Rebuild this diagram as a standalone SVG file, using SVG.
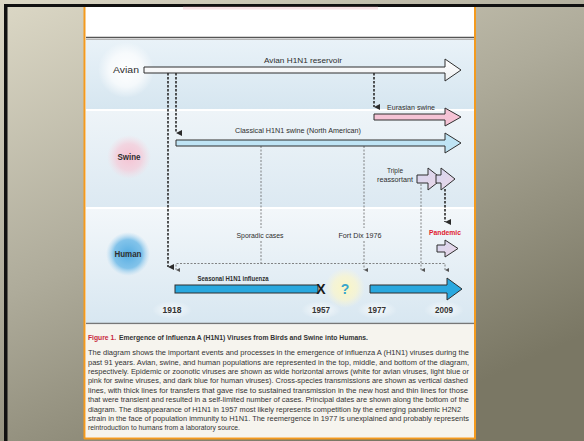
<svg xmlns="http://www.w3.org/2000/svg" width="584" height="441" viewBox="0 0 584 441">
<defs>
<linearGradient id="bg" x1="0" y1="0" x2="0.6" y2="1">
<stop offset="0" stop-color="#dcd8c6"/>
<stop offset="0.5" stop-color="#aeab9a"/>
<stop offset="1" stop-color="#7a7764"/>
</linearGradient>
<linearGradient id="band1" x1="0" y1="0" x2="0" y2="1">
<stop offset="0" stop-color="#e9f2f8"/>
<stop offset="1" stop-color="#d6e6f0"/>
</linearGradient>
<linearGradient id="band2" x1="0" y1="0" x2="0" y2="1">
<stop offset="0" stop-color="#eef4f8"/>
<stop offset="1" stop-color="#dce9f2"/>
</linearGradient>
<linearGradient id="band3" x1="0" y1="0" x2="0" y2="1">
<stop offset="0" stop-color="#f3f7fa"/>
<stop offset="1" stop-color="#d8e7f1"/>
</linearGradient>
<linearGradient id="lav" x1="0" y1="0" x2="1" y2="1">
<stop offset="0" stop-color="#d4d6f0"/>
<stop offset="1" stop-color="#ecd6e6"/>
</linearGradient>
<linearGradient id="white" x1="0" y1="0" x2="0" y2="1">
<stop offset="0" stop-color="#ffffff"/>
<stop offset="1" stop-color="#eef0f2"/>
</linearGradient>
<radialGradient id="gWhite"><stop offset="0" stop-color="#ffffff" stop-opacity="1"/><stop offset="0.6" stop-color="#ffffff" stop-opacity="0.7"/><stop offset="1" stop-color="#ffffff" stop-opacity="0"/></radialGradient>
<radialGradient id="gYr"><stop offset="0" stop-color="#ffffff" stop-opacity="0.8"/><stop offset="1" stop-color="#ffffff" stop-opacity="0"/></radialGradient>
<radialGradient id="gPink"><stop offset="0" stop-color="#f6c3d3" stop-opacity="1"/><stop offset="0.6" stop-color="#f6c9d7" stop-opacity="0.7"/><stop offset="1" stop-color="#f8d6e0" stop-opacity="0"/></radialGradient>
<radialGradient id="gBlue"><stop offset="0" stop-color="#55ade2" stop-opacity="1"/><stop offset="0.65" stop-color="#70bbe8" stop-opacity="0.85"/><stop offset="1" stop-color="#a8d4f0" stop-opacity="0"/></radialGradient>
<radialGradient id="gYellow"><stop offset="0" stop-color="#fbf6c4" stop-opacity="1"/><stop offset="0.6" stop-color="#fbf6cc" stop-opacity="0.7"/><stop offset="1" stop-color="#fbf6d8" stop-opacity="0"/></radialGradient>
<marker id="ah" viewBox="0 0 6 6" refX="3" refY="6" markerWidth="6" markerHeight="6" markerUnits="userSpaceOnUse" orient="auto-start-reverse"><path d="M0,0 L6,0 L3,6 Z" fill="#2b2b2b"/></marker>
<marker id="ahs" viewBox="0 0 4 4" refX="2" refY="4" markerWidth="4" markerHeight="4" markerUnits="userSpaceOnUse" orient="auto-start-reverse"><path d="M0,0 L4,0 L2,4 Z" fill="#555"/></marker>
</defs>
<style>
.lbl{font-family:"Liberation Sans",Arial,sans-serif;font-size:8px;fill:#2e2e2e;}
.big{font-family:"Liberation Sans",Arial,sans-serif;font-size:9px;fill:#2e2e2e;}
.yr{font-family:"Liberation Sans",Arial,sans-serif;font-size:9px;fill:#333;font-weight:bold;}
.cap{font-family:"Liberation Sans",Arial,sans-serif;font-size:7.8px;fill:#333;}
.arrow{stroke:#2f2f2f;stroke-width:1;stroke-linejoin:miter;}
.thick{fill:none;stroke:#2b2b2b;stroke-width:1.6;stroke-dasharray:2.5 1.5;}
.thin{fill:none;stroke:#666;stroke-width:0.8;stroke-dasharray:2 1.5;}
</style>
<!-- background -->
<rect x="0" y="0" width="584" height="441" fill="url(#bg)"/>
<rect x="4" y="4" width="580" height="3" fill="#111"/>
<rect x="4" y="4" width="3.5" height="437" fill="#111"/>
<!-- panel -->
<rect x="85" y="7" width="390" height="431" fill="#ffffff"/>
<rect x="183" y="6.5" width="195" height="3" fill="#e9a8b4" opacity="0.35"/>
<line x1="86" y1="37.5" x2="474" y2="37.5" stroke="#555" stroke-width="1.5"/>
<line x1="86" y1="39.5" x2="474" y2="39.5" stroke="#b5b5b5" stroke-width="1"/>
<rect x="86" y="40" width="388" height="69" fill="url(#band1)"/>
<rect x="86" y="111" width="388" height="96" fill="url(#band2)"/>
<rect x="86" y="209" width="388" height="114" fill="url(#band3)"/>
<line x1="86" y1="323.5" x2="474" y2="323.5" stroke="#777" stroke-width="1.5"/>
<rect x="86" y="324.5" width="388" height="113" fill="#f6f4ee"/>
<line x1="84.5" y1="7" x2="84.5" y2="439" stroke="#f39a1e" stroke-width="2"/>
<line x1="475" y1="7" x2="475" y2="439" stroke="#f39a1e" stroke-width="2"/>
<line x1="84" y1="438.5" x2="476" y2="438.5" stroke="#f39a1e" stroke-width="2"/>

<!-- host labels -->
<g id="avian">
<circle cx="126" cy="70" r="28" fill="url(#gWhite)"/>
<text class="big" x="126" y="72.8" text-anchor="middle" textLength="26" lengthAdjust="spacingAndGlyphs">Avian</text>
</g>
<g id="swine">
<circle cx="129" cy="157" r="22" fill="url(#gPink)"/>
<text class="big" x="129" y="160" text-anchor="middle" textLength="23" lengthAdjust="spacingAndGlyphs" font-weight="bold">Swine</text>
</g>
<g id="human">
<circle cx="128" cy="254" r="22" fill="url(#gBlue)"/>
<text class="big" x="128" y="257.2" text-anchor="middle" textLength="27" lengthAdjust="spacingAndGlyphs" font-weight="bold">Human</text>
</g>

<!-- connectors -->
<g id="connectors">
<line class="thick" x1="168" y1="73" x2="168" y2="267" marker-end="url(#ah)"/>
<line class="thick" x1="176" y1="73" x2="176" y2="133" marker-end="url(#ah)"/>
<line class="thick" x1="374" y1="73" x2="374" y2="107" marker-end="url(#ah)"/>
<line class="thick" x1="445" y1="189" x2="445" y2="222" marker-end="url(#ah)"/>
<line class="thin" x1="261" y1="146" x2="261" y2="228"/>
<line class="thin" x1="261" y1="241" x2="261" y2="263.5"/>
<line class="thin" x1="364" y1="146" x2="364" y2="228"/>
<line class="thin" x1="364" y1="241" x2="364" y2="270" marker-end="url(#ahs)"/>
<line class="thin" x1="421" y1="184" x2="421" y2="270" marker-end="url(#ahs)"/>
<polyline class="thin" points="176,270 176,263.5 445,263.5 445,270" marker-start="url(#ahs)" marker-end="url(#ahs)"/>
</g>

<!-- arrows -->
<g id="avian-reservoir">
<path class="arrow" fill="url(#white)" d="M144,67 H445 V59 L461,70 L445,81 V73 H144 Z"/>
<text class="lbl" x="303" y="62.8" text-anchor="middle" textLength="78" lengthAdjust="spacingAndGlyphs">Avian H1N1 reservoir</text>
</g>
<g id="eurasian-swine">
<path class="arrow" fill="#f5c3d5" d="M374,114 H445 V108 L461,117 L445,126 V120 H374 Z"/>
<text class="lbl" x="411" y="109.8" text-anchor="middle" textLength="48" lengthAdjust="spacingAndGlyphs">Eurasian swine</text>
</g>
<g id="classical-swine">
<path class="arrow" fill="#bfe4f5" d="M176,140 H445 V133 L461,143 L445,153 V146 H176 Z"/>
<text class="lbl" x="298" y="132.8" text-anchor="middle" textLength="126" lengthAdjust="spacingAndGlyphs">Classical H1N1 swine (North American)</text>
</g>
<g id="triple-reassortant">
<path class="arrow" fill="url(#lav)" d="M417,175 H428 V168 L442,179 L428,190 V183 H417 Z"/>
<path class="arrow" fill="url(#lav)" d="M436,175 H441 V168 L455,179 L441,190 V183 H436 Z"/>
<text class="lbl" x="395" y="172.8" text-anchor="middle" textLength="16" lengthAdjust="spacingAndGlyphs">Triple</text>
<text class="lbl" x="395" y="181.8" text-anchor="middle" textLength="36" lengthAdjust="spacingAndGlyphs">reassortant</text>
</g>
<g id="pandemic">
<text class="lbl" x="445" y="234.8" text-anchor="middle" textLength="32" lengthAdjust="spacingAndGlyphs" style="fill:#e0202e;font-weight:bold">Pandemic</text>
<path class="arrow" fill="url(#lav)" d="M437,245 H445 V240 L458,248.5 L445,257 V252 H437 Z"/>
</g>
<g id="labels-transfer">
<text class="lbl" x="260" y="237.8" text-anchor="middle" textLength="47" lengthAdjust="spacingAndGlyphs">Sporadic cases</text>
<text class="lbl" x="360" y="237.8" text-anchor="middle" textLength="43" lengthAdjust="spacingAndGlyphs">Fort Dix 1976</text>
</g>
<g id="seasonal">
<text class="lbl" x="233" y="280.8" text-anchor="middle" textLength="71" lengthAdjust="spacingAndGlyphs" style="font-weight:bold">Seasonal H1N1 influenza</text>
<rect class="arrow" x="175" y="285" width="143" height="8" fill="#29a8df"/>
<text x="321" y="293.5" text-anchor="middle" font-family="Liberation Sans, Arial, sans-serif" font-size="14" font-weight="bold" fill="#1a1a1a">X</text>
</g>
<g id="unknown">
<circle cx="345" cy="288" r="20" fill="url(#gYellow)"/>
<text x="345" y="294" text-anchor="middle" font-family="Liberation Sans, Arial, sans-serif" font-size="14" font-weight="bold" fill="#39a6cc">?</text>
</g>
<g id="human-1977">
<path class="arrow" fill="#29a8df" d="M370,285 H447 V278 L462,289 L447,300 V293 H370 Z"/>
</g>
<g id="years">
<ellipse cx="172" cy="310" rx="20" ry="9" fill="url(#gYr)"/>
<ellipse cx="321" cy="310" rx="20" ry="9" fill="url(#gYr)"/>
<ellipse cx="377" cy="310" rx="20" ry="9" fill="url(#gYr)"/>
<ellipse cx="444" cy="310" rx="20" ry="9" fill="url(#gYr)"/>
<text class="yr" x="172" y="313" text-anchor="middle" textLength="19" lengthAdjust="spacingAndGlyphs">1918</text>
<text class="yr" x="321" y="313" text-anchor="middle" textLength="18" lengthAdjust="spacingAndGlyphs">1957</text>
<text class="yr" x="377" y="313" text-anchor="middle" textLength="18" lengthAdjust="spacingAndGlyphs">1977</text>
<text class="yr" x="444" y="313" text-anchor="middle" textLength="18" lengthAdjust="spacingAndGlyphs">2009</text>
</g>

<!-- caption -->
<g id="caption">
<text class="cap" x="88" y="339.8" textLength="28" lengthAdjust="spacingAndGlyphs" font-weight="bold" style="fill:#c8283c">Figure 1.</text>
<text class="cap" x="119" y="339.8" textLength="249" lengthAdjust="spacingAndGlyphs" font-weight="bold">Emergence of Influenza A (H1N1) Viruses from Birds and Swine into Humans.</text>
<text class="cap" x="88" y="355.3" textLength="381" lengthAdjust="spacingAndGlyphs">The diagram shows the important events and processes in the emergence of influenza A (H1N1) viruses during the</text>
<text class="cap" x="88" y="364.7" textLength="381" lengthAdjust="spacingAndGlyphs">past 91 years. Avian, swine, and human populations are represented in the top, middle, and bottom of the diagram,</text>
<text class="cap" x="88" y="374.1" textLength="381" lengthAdjust="spacingAndGlyphs">respectively. Epidemic or zoonotic viruses are shown as wide horizontal arrows (white for avian viruses, light blue or</text>
<text class="cap" x="88" y="383.4" textLength="380" lengthAdjust="spacingAndGlyphs">pink for swine viruses, and dark blue for human viruses). Cross-species transmissions are shown as vertical dashed</text>
<text class="cap" x="88" y="392.8" textLength="380" lengthAdjust="spacingAndGlyphs">lines, with thick lines for transfers that gave rise to sustained transmission in the new host and thin lines for those</text>
<text class="cap" x="88" y="402.2" textLength="381" lengthAdjust="spacingAndGlyphs">that were transient and resulted in a self-limited number of cases. Principal dates are shown along the bottom of the</text>
<text class="cap" x="88" y="411.6" textLength="373" lengthAdjust="spacingAndGlyphs">diagram. The disappearance of H1N1 in 1957 most likely represents competition by the emerging pandemic H2N2</text>
<text class="cap" x="88" y="420.9" textLength="381" lengthAdjust="spacingAndGlyphs">strain in the face of population immunity to H1N1. The reemergence in 1977 is unexplained and probably represents</text>
<text class="cap" x="88" y="430.3" textLength="152" lengthAdjust="spacingAndGlyphs">reintroduction to humans from a laboratory source.</text>
</g>
</svg>
